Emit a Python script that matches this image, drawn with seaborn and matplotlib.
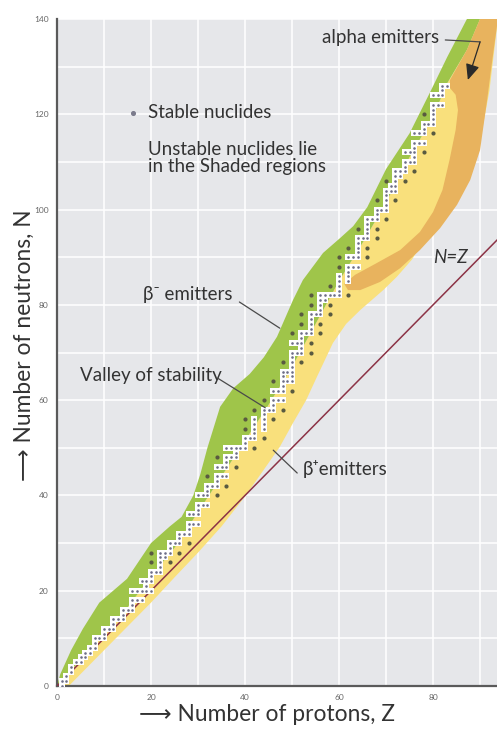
import numpy as np
import pandas as pd
import seaborn as sns
import matplotlib.pyplot as plt

# Stable nuclides: neutron numbers N for each proton number Z = 1..83
stable_n_by_z = [
    [0, 1], [1, 2], [3, 4], [5], [5, 6], [6, 7], [7, 8], [8, 9, 10], [10],
    [10, 11, 12], [12], [12, 13, 14], [14], [14, 15, 16], [16],
    [16, 17, 18, 20], [18, 20], [18, 20, 22], [20, 21, 22],
    [20, 22, 23, 24, 26, 28], [24], [24, 25, 26, 27, 28], [27, 28],
    [26, 28, 29, 30], [30], [28, 30, 31, 32], [32], [30, 32, 33, 34, 36],
    [34, 36], [34, 36, 37, 38, 40], [38, 40], [38, 40, 41, 42, 44], [42],
    [40, 42, 43, 44, 46, 48], [44, 46], [42, 44, 46, 47, 48, 50], [48, 50],
    [46, 48, 49, 50], [50], [50, 51, 52, 54, 56], [52],
    [50, 52, 53, 54, 55, 56, 58], [], [52, 54, 55, 56, 57, 58, 60], [58],
    [56, 58, 59, 60, 62, 64], [60, 62], [58, 60, 62, 63, 64, 65, 66, 68],
    [64, 66], [62, 64, 65, 66, 67, 68, 69, 70, 72, 74], [70, 72],
    [68, 70, 71, 72, 73, 74, 76, 78], [74],
    [70, 72, 74, 75, 76, 77, 78, 80, 82], [78], [74, 76, 78, 79, 80, 81, 82],
    [81, 82], [78, 80, 82, 84], [82], [82, 83, 84, 85, 86, 88, 90], [],
    [82, 85, 86, 87, 88, 90, 92], [88, 90], [88, 90, 91, 92, 93, 94, 96], [94],
    [90, 92, 94, 95, 96, 97, 98], [98], [94, 96, 98, 99, 100, 102], [100],
    [98, 100, 101, 102, 103, 104, 106], [104, 105],
    [102, 104, 105, 106, 107, 108], [107, 108], [106, 108, 109, 110, 112],
    [110, 112], [108, 110, 111, 112, 113, 114, 116], [114, 116],
    [112, 114, 116, 117, 118, 120], [118],
    [116, 118, 119, 120, 121, 122, 124], [122, 124], [122, 124, 125, 126],
    [126],
]

# Upper edge of the beta-minus (neutron-rich) band
beta_minus_edge_z = [0, 0.7, 3, 5.5, 9, 14.9, 20, 24, 26.5, 29, 30.5, 32, 34.7,
                     37.5, 41, 44, 46.8, 50.2, 52.3, 56.6, 60.2, 63, 66, 70,
                     75, 79.4, 83, 87.2]
beta_minus_edge_n = [0, 2.5, 7.5, 12, 17.5, 22.5, 30, 33.5, 35.5, 40, 44.5, 50,
                     58.6, 62.5, 65.5, 69, 73.3, 81, 85.2, 90.9, 94, 96.5,
                     100.5, 108.5, 116, 124.7, 132, 140]

# Line through the valley of stability
valley_z = [0, 5, 10, 15, 20, 25, 30, 35, 40, 45, 50, 55, 60, 65, 70, 75, 80,
            83, 87.2, 90]
valley_n = [0, 5.5, 11, 16.5, 23, 29, 36.5, 44, 51.5, 59, 67, 76, 85, 93,
            101.5, 111, 119.5, 126.5, 133.5, 140]

# Lower edge of the beta-plus (proton-rich) band
beta_plus_edge_z = [0, 2.5, 6, 10, 15, 20, 25, 30, 35, 40, 43, 47.4, 50.2, 53,
                    55.3, 58.7, 61.5, 64.5, 69.4, 72.3, 75.5, 79, 82, 85, 88,
                    90.5, 92, 93.8]
beta_plus_edge_n = [0, 0, 3.5, 7.5, 12.5, 17.5, 22.8, 28, 33.5, 39.8, 44, 50.2,
                    55.2, 60, 64.9, 72, 76, 78.9, 83.1, 85.9, 89.5, 95,
                    100, 105, 110.5, 117, 125, 140]

# Alpha-emitter region: outer edge then inner edge
alpha_outer_z = [93.8, 92.6, 91.5, 90, 87.9, 85.1, 81.5, 77.2, 73, 68.7, 64.5,
                 61.9, 61.1]
alpha_outer_n = [140, 131.4, 123, 112.5, 106.2, 101, 96.1, 91.5, 87.7, 84.8,
                 83.1, 83.1, 84.4]
alpha_inner_z = [63.4, 67.7, 73, 77.2, 80, 82, 83.5, 84.8, 85.3, 84.8, 83.6,
                 83.6, 87.2, 90]
alpha_inner_n = [86.3, 88.6, 91.5, 95.3, 99.5, 104.1, 110.4, 116.7, 120.9,
                 124.1, 125.5, 127.2, 133.5, 140]

axis_max_z = 93.6
axis_max_n = 140
x_ticks = [0, 20, 40, 60, 80]
y_ticks = [0, 20, 40, 60, 80, 100, 120, 140]

GREEN = "#9fc54a"
YELLOW = "#f9e07c"
ORANGE = "#e8b35e"
TEXT = "#333333"

sns.set_theme(style="darkgrid", rc={
    "axes.facecolor": "#e6e7ea",
    "grid.color": "white",
    "grid.linewidth": 1.1,
    "axes.edgecolor": "#5a5a5a",
})
plt.rcParams["font.family"] = ["Lato", "DejaVu Sans"]

fig = plt.figure(figsize=(4.97, 7.29), dpi=100)
ax = fig.add_axes([57 / 497, 43 / 729, 440 / 497, 667 / 729])

# Build nuclide table
rows = []
for z, ns in enumerate(stable_n_by_z, start=1):
    for n in ns:
        rows.append((z, n))
nuclides = pd.DataFrame(rows, columns=["Z", "N"])
occupied = set(rows)
nuclides["isolated"] = [
    not any(p in occupied for p in ((z, n - 1), (z, n + 1), (z - 1, n), (z + 1, n)))
    for z, n in rows
]

# Shaded decay regions
ax.fill(list(valley_z) + beta_plus_edge_z[::-1],
        list(valley_n) + beta_plus_edge_n[::-1],
        color=YELLOW, lw=0, zorder=2)
ax.fill(beta_minus_edge_z + valley_z[::-1],
        beta_minus_edge_n + valley_n[::-1],
        color=GREEN, lw=0, zorder=2)
ax.fill(alpha_outer_z + alpha_inner_z, alpha_outer_n + alpha_inner_n,
        color=ORANGE, lw=0, zorder=2.5)

# N = Z reference line
nz = pd.DataFrame({"Z": [0, axis_max_n], "N": [0, axis_max_n]})
sns.lineplot(data=nz, x="Z", y="N", ax=ax, color="#8c3346", lw=1.1, zorder=3)

# Stable nuclides
chain = nuclides[~nuclides["isolated"]]
lone = nuclides[nuclides["isolated"]]
sns.scatterplot(data=chain, x="Z", y="N", ax=ax, marker="s", s=15,
                color="white", linewidth=0, zorder=4)
sns.scatterplot(data=chain, x="Z", y="N", ax=ax, marker="o", s=3.5,
                color="#6d6e86", linewidth=0, zorder=5)
sns.scatterplot(data=lone, x="Z", y="N", ax=ax, marker="o", s=9,
                color="#595a40", linewidth=0, zorder=5)

# Axes styling
ax.set_xlim(0, axis_max_z)
ax.set_ylim(0, axis_max_n)
ax.set_xticks(np.arange(0, 91, 10))
ax.set_yticks(np.arange(0, 141, 10))
ax.set_xticklabels([str(v) if v in x_ticks else "" for v in np.arange(0, 91, 10)])
ax.set_yticklabels([str(v) if v in y_ticks else "" for v in np.arange(0, 141, 10)])
ax.tick_params(axis="both", labelsize=6, colors="#666666", length=0, pad=6)
for side in ("top", "right"):
    ax.spines[side].set_visible(False)
for side in ("left", "bottom"):
    ax.spines[side].set_visible(True)
    ax.spines[side].set_linewidth(1.6)
    ax.spines[side].set_color("#5a5a5a")

ax.set_xlabel("\u27f6 Number of protons, Z", fontsize=16.4, color=TEXT)
ax.xaxis.set_label_coords(0.478, -0.027)
ax.set_ylabel("\u27f6 Number of neutrons, N", fontsize=16.4, color=TEXT)
ax.yaxis.set_label_coords(-0.05, 0.511)

# Annotations
fs = 13.5
ax.scatter([16.2], [120.3], s=7, color="#7b7b8c", zorder=6)
ax.text(19.4, 120.3, "Stable nuclides", fontsize=fs, color=TEXT,
        va="center", ha="left", zorder=6)
ax.text(19.4, 110.8, "Unstable nuclides lie\nin the Shaded regions",
        fontsize=fs, color=TEXT, va="center", ha="left", linespacing=0.95,
        zorder=6)
ax.text(18.3, 82.1, "\u03b2\u207b emitters", fontsize=fs, color=TEXT,
        va="center", ha="left", zorder=6)
ax.text(4.9, 65.1, "Valley of stability", fontsize=fs, color=TEXT,
        va="center", ha="left", zorder=6)
ax.text(52.3, 45.6, "\u03b2\u207aemitters", fontsize=fs, color=TEXT,
        va="center", ha="left", zorder=6)
ax.text(80, 90, "N=Z", fontsize=fs, color=TEXT, style="italic",
        va="center", ha="left", zorder=6)
ax.text(56.4, 136.2, "alpha emitters", fontsize=fs, color=TEXT,
        va="center", ha="left", zorder=6)

leader = dict(color="#4a4a4a", lw=0.9, zorder=6)
ax.plot([38.8, 47.4], [80.6, 75.1], **leader)
ax.plot([34.2, 44.3], [64.6, 58.4], **leader)
ax.plot([51.1, 46.0], [44.7, 49.5], **leader)
ax.plot([82.6, 90.0], [135.6, 135.2], **leader)
ax.annotate("", xy=(87.4, 127.2), xytext=(90.0, 135.2),
            arrowprops=dict(arrowstyle="-|>,head_length=0.8,head_width=0.35",
                            color="#2a2a2a", lw=0.9, shrinkA=0, shrinkB=0),
            zorder=6)

fig.savefig("out.png", dpi=100, facecolor="white")
